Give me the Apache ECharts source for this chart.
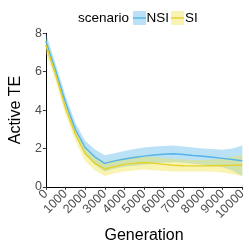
<!DOCTYPE html>
<html><head><meta charset="utf-8">
<script src="https://cdn.jsdelivr.net/npm/echarts@6/dist/echarts.min.js"></script>
<style>html,body{margin:0;padding:0;background:#fff}#c{width:249px;height:249px}</style>
</head><body><div id="c"></div>
<script>
var generations = [0,500,1000,1500,2000,2500,3000,3500,4000,4500,5000,5500,6000,6500,7000,7500,8000,8500,9000,9500,10000];
var nsiMean = [7.6,6.05,4.4,3.0,2.05,1.55,1.22,1.35,1.45,1.53,1.6,1.66,1.7,1.72,1.68,1.63,1.59,1.54,1.48,1.42,1.36];
var nsiLow  = [7.2,5.7,4.05,2.65,1.7,1.15,0.8,0.95,1.05,1.1,1.15,1.2,1.25,1.28,1.25,1.2,1.15,1.1,1.02,0.85,0.56];
var nsiHigh = [8.0,6.4,4.75,3.35,2.4,1.95,1.65,1.75,1.87,1.97,2.05,2.1,2.13,2.15,2.1,2.05,2.0,1.97,1.93,2.0,2.15];
var siMean  = [7.4,5.85,4.1,2.75,1.72,1.22,0.93,1.05,1.17,1.22,1.27,1.22,1.17,1.12,1.1,1.09,1.09,1.1,1.11,1.12,1.14];
var siLow   = [7.0,5.5,3.75,2.4,1.35,0.85,0.56,0.7,0.8,0.85,0.9,0.86,0.82,0.8,0.8,0.8,0.8,0.78,0.75,0.65,0.56];
var siHigh  = [7.8,6.2,4.45,3.1,2.05,1.55,1.3,1.4,1.5,1.55,1.6,1.55,1.5,1.45,1.42,1.4,1.4,1.42,1.47,1.57,1.67];
var yTicks = [0,2,4,6,8];

var BLUE = '#56B4E9', YEL = '#E4D22A';
var BLUEF = 'rgba(86,180,233,0.4)', YELF = 'rgba(240,228,66,0.4)';
function diff(h,l){return h.map(function(v,i){return +(v-l[i]).toFixed(3);});}
var font = 'Liberation Sans, Arial, sans-serif';
var chart = echarts.init(document.getElementById('c'), null, {renderer:'canvas'});
chart.setOption({
  animation:false,
  textStyle:{fontFamily:font},
  grid:{left:30.7,right:4,top:33.3,bottom:59.7,containLabel:false},
  xAxis:{type:'category',data:generations.map(String),boundaryGap:false,
    name:'Generation',nameLocation:'middle',nameGap:41,
    nameTextStyle:{fontSize:16,color:'#000',fontFamily:font},
    axisLine:{lineStyle:{color:'#000',width:1}},
    axisTick:{interval:1,length:3,lineStyle:{color:'#333'}},
    axisLabel:{interval:1,rotate:45,margin:5,fontSize:12.5,color:'#4D4D4D',fontFamily:font,
      showMinLabel:true,showMaxLabel:true,hideOverlap:false,
      formatter:function(v,i){return i===0?'':v;}},
    splitLine:{show:false}},
  yAxis:{type:'value',min:0,max:8,interval:2,
    name:'Active TE',nameLocation:'middle',nameGap:14,
    nameTextStyle:{fontSize:16,color:'#000',fontFamily:font},
    axisLine:{show:true,lineStyle:{color:'#000',width:1}},
    axisTick:{show:true,length:3,lineStyle:{color:'#333'}},
    axisLabel:{margin:4,fontSize:12.5,color:'#4D4D4D',fontFamily:font,
      formatter:function(v){return yTicks.indexOf(v)>=0?String(v):'';}},
    splitLine:{show:false}},
  series:[
    {name:'nsiLo',type:'line',stack:'nsi',data:nsiLow,symbol:'none',lineStyle:{opacity:0},silent:true},
    {name:'nsiBand',type:'line',stack:'nsi',data:diff(nsiHigh,nsiLow),symbol:'none',lineStyle:{opacity:0},areaStyle:{color:BLUEF,opacity:1},silent:true},
    {name:'siLo',type:'line',stack:'si',data:siLow,symbol:'none',lineStyle:{opacity:0},silent:true},
    {name:'siBand',type:'line',stack:'si',data:diff(siHigh,siLow),symbol:'none',lineStyle:{opacity:0},areaStyle:{color:YELF,opacity:1},silent:true},
    {name:'NSI',type:'line',data:nsiMean,symbol:'none',lineStyle:{color:BLUE,width:1.4},z:5},
    {name:'SI',type:'line',data:siMean,symbol:'none',lineStyle:{color:YEL,width:1.4},z:5}
  ],
  graphic:[
    {type:'text',left:78,top:11.5,style:{text:'scenario',fontSize:13.5,fill:'#000',fontFamily:font}},
    {type:'rect',shape:{x:133,y:11,width:13,height:14},style:{fill:BLUEF}},
    {type:'line',shape:{x1:133,y1:18,x2:146,y2:18},style:{stroke:BLUE,lineWidth:1.4}},
    {type:'text',left:146.5,top:11.5,style:{text:'NSI',fontSize:13.5,fill:'#000',fontFamily:font}},
    {type:'rect',shape:{x:171,y:11,width:13,height:14},style:{fill:YELF}},
    {type:'line',shape:{x1:171,y1:18,x2:184,y2:18},style:{stroke:YEL,lineWidth:1.4}},
    {type:'text',left:185,top:11.5,style:{text:'SI',fontSize:13.5,fill:'#000',fontFamily:font}}
  ]
});
// first x tick label ("0") at the origin found through the library's own scales
try {
  var o = chart.convertToPixel({gridIndex:0},[0, 0]);
  var ox = (o && isFinite(o[0])) ? o[0] : 30.7;
  var oy = (o && isFinite(o[1])) ? o[1] : 189.3;
  var t = new echarts.graphic.Text({
    x: ox, y: oy + 5, rotation: Math.PI/4, z: 100, zlevel: 0,
    style: {text: String(generations[0]), fontSize: 12.5, fill: '#4D4D4D', fontFamily: font,
            align: 'right', verticalAlign: 'middle'}
  });
  chart.getZr().add(t);
  chart.getZr().refreshImmediately && chart.getZr().refreshImmediately();
} catch (e) {}
</script></body></html>
